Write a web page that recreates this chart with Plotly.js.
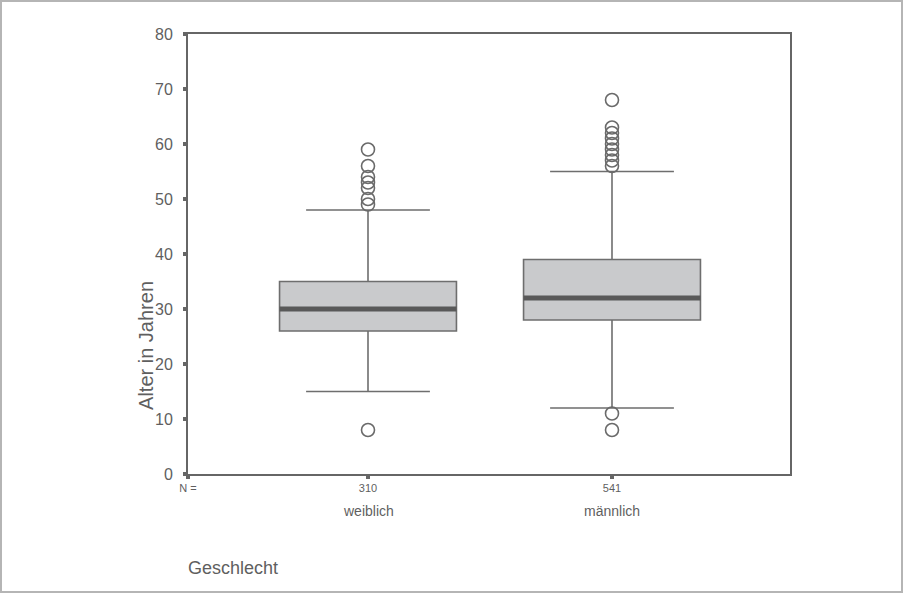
<!DOCTYPE html>
<html>
<head>
<meta charset="utf-8">
<script src="https://cdn.plot.ly/plotly-3.0.1.min.js"></script>
<style>
html,body{margin:0;padding:0;background:#fff;}
#wrap{width:903px;height:593px;box-sizing:border-box;border:2px solid #b5b5b5;position:relative;overflow:hidden;}
#chart{position:absolute;left:-2px;top:-2px;width:903px;height:593px;}
</style>
</head>
<body>
<div id="wrap"><div id="chart"></div></div>
<script>
// Data
const categories = ["weiblich", "männlich"];
const nLabels = ["310", "541"];
const xPos = [1, 2];
const q1 = [26, 28];
const median = [30, 32];
const q3 = [35, 39];
const lowerWhisker = [15, 12];
const upperWhisker = [48, 55];
const outliersW = [8, 49, 50, 52, 53, 54, 56, 59];
const outliersM = [8, 11, 56, 57, 58, 59, 60, 61, 62, 63, 68];

const boxW = 0.725;
const font = "Liberation Sans, Arial, Helvetica, sans-serif";
const gray = "#5f5f5f";

const traces = [];
traces.push({
  type: "box",
  x: xPos,
  q1: q1, median: median, q3: q3,
  lowerfence: lowerWhisker, upperfence: upperWhisker,
  width: boxW,
  whiskerwidth: 0.7,
  boxpoints: false,
  fillcolor: "#c9cacc",
  line: {color: "#6e6e6e", width: 1.6},
  hoverinfo: "skip",
  showlegend: false
});
// thick median lines
for (let i = 0; i < xPos.length; i++) {
  traces.push({
    type: "scatter", mode: "lines",
    x: [xPos[i] - boxW / 2, xPos[i] + boxW / 2],
    y: [median[i], median[i]],
    line: {color: "#595959", width: 5},
    hoverinfo: "skip", showlegend: false
  });
}
const outl = [outliersW, outliersM];
for (let i = 0; i < xPos.length; i++) {
  traces.push({
    type: "scatter", mode: "markers",
    x: outl[i].map(() => xPos[i]),
    y: outl[i],
    marker: {symbol: "circle-open", size: 13, color: "#6a6a6a", line: {width: 1.6, color: "#6a6a6a"}},
    hoverinfo: "skip", showlegend: false
  });
}

const xMin = 1 - 180 / 244;
const xMax = xMin + 602 / 244;

const layout = {
  width: 903, height: 593,
  margin: {l: 188, r: 113, t: 34, b: 119},
  paper_bgcolor: "rgba(0,0,0,0)",
  plot_bgcolor: "#fff",
  font: {family: font, color: gray},
  showlegend: false,
  xaxis: {
    range: [xMin, xMax],
    tickvals: [xMin].concat(xPos),
    ticktext: ["N ="].concat(nLabels),
    ticks: "outside", ticklen: 3, tickwidth: 4, tickcolor: "#666",
    tickfont: {size: 11, color: gray, family: font},
    showline: true, linecolor: "#666", linewidth: 2, mirror: true,
    showgrid: false, zeroline: false, fixedrange: true
  },
  yaxis: {
    range: [0, 80],
    tickvals: [0, 10, 20, 30, 40, 50, 60, 70, 80],
    ticks: "outside", ticklen: 3, tickwidth: 4, tickcolor: "#666",
    ticklabelstandoff: 7,
    tickfont: {size: 16, color: gray, family: font},
    showline: true, linecolor: "#666", linewidth: 2, mirror: true,
    showgrid: false, zeroline: false, fixedrange: true
  },
  annotations: [
    {text: categories[0], x: xPos[0], xref: "x", y: -0.084, yref: "paper", showarrow: false, yanchor: "middle", font: {size: 14, color: gray, family: font}},
    {text: categories[1], x: xPos[1], xref: "x", y: -0.084, yref: "paper", showarrow: false, yanchor: "middle", font: {size: 14, color: gray, family: font}},
    {text: "Geschlecht", x: -0.003, xref: "paper", xanchor: "left", y: -0.214, yref: "paper", yanchor: "middle", showarrow: false, font: {size: 18, color: gray, family: font}},
    {text: "Alter in Jahren", x: -0.07, xref: "paper", xanchor: "center", y: 0.293, yref: "paper", yanchor: "middle", textangle: -90, showarrow: false, font: {size: 20, color: gray, family: font}}
  ]
};

Plotly.newPlot("chart", traces, layout, {displayModeBar: false, staticPlot: true});
</script>
</body>
</html>
